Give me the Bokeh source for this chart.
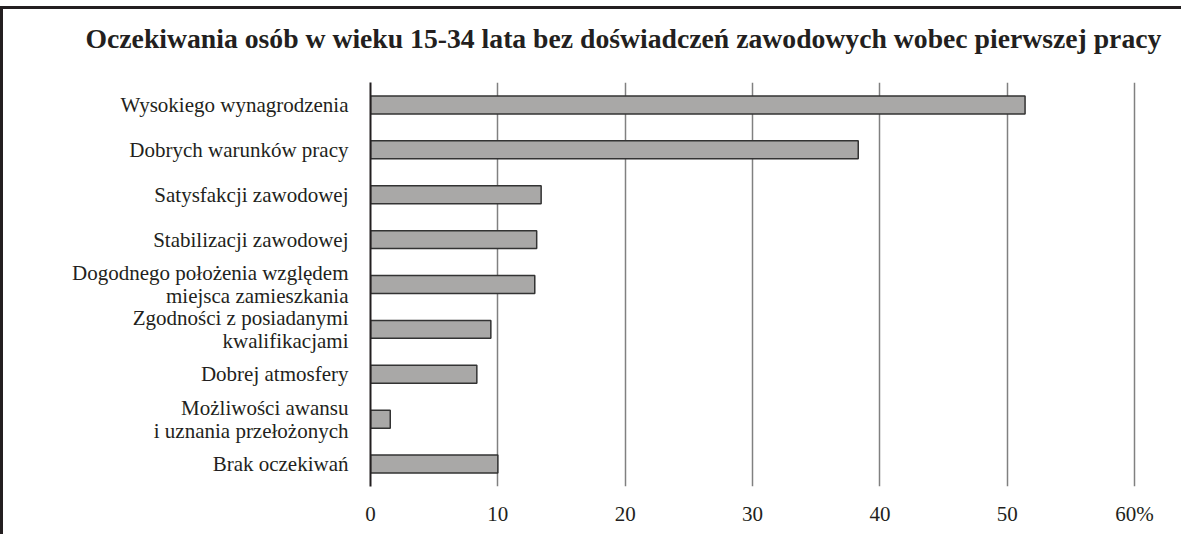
from bokeh.plotting import figure
from bokeh.models import FactorRange, FixedTicker, Title, ColumnDataSource, Range1d
from bokeh.embed import file_html
from bokeh.resources import INLINE

title_text = "Oczekiwania osób w wieku 15-34 lata bez doświadczeń zawodowych wobec pierwszej pracy"

categories = [
    "Wysokiego wynagrodzenia",
    "Dobrych warunków pracy",
    "Satysfakcji zawodowej",
    "Stabilizacji zawodowej",
    "Dogodnego położenia względem\nmiejsca zamieszkania",
    "Zgodności z posiadanymi\nkwalifikacjami",
    "Dobrej atmosfery",
    "Możliwości awansu\ni uznania przełożonych",
    "Brak oczekiwań",
]
values = [51.4, 38.3, 13.4, 13.05, 12.9, 9.45, 8.35, 1.55, 10.0]

x_ticks = [0, 10, 20, 30, 40, 50, 60]
x_tick_labels = {60: "60%"}

FONT = "Liberation Serif"
TEXT = "#231f20"

src = ColumnDataSource(dict(cat=categories, val=values))

p = figure(
    width=1181, height=528,
    y_range=FactorRange(*reversed(categories), range_padding=0),
    x_range=Range1d(0, 60.15),
    output_backend="svg", toolbar_location=None,
    min_border_left=367, min_border_right=48,
    min_border_top=0, min_border_bottom=51,
)
p.styles = {
    "border-top": "3px solid #231f20",
    "border-left": "3px solid #231f20",
    "margin-top": "6px",
    "margin-bottom": "-14px",
}

# spacer between frame and title (nearest to frame)
spacer = Title(text=" ", text_font=FONT, text_font_size="10px", standoff=5)
p.add_layout(spacer, "above")

t = Title(text=title_text, text_font=FONT, text_font_size="27.7px",
          text_font_style="bold", text_color=TEXT, align="left",
          offset=-285, standoff=22)
p.add_layout(t, "above")

p.hbar(y="cat", right="val", left=0, height=0.4, source=src,
       fill_color="#a9a8a7", line_color="#333333", line_width=1.5)

p.outline_line_color = None
p.ygrid.grid_line_color = None
p.xgrid.grid_line_color = "#808080"
p.xgrid.grid_line_width = 1.5
p.xgrid.ticker = FixedTicker(ticks=x_ticks)

p.xaxis.ticker = FixedTicker(ticks=x_ticks)
p.xaxis.major_label_overrides = x_tick_labels
p.xaxis.axis_line_color = None
p.xaxis.major_tick_line_color = None
p.xaxis.major_tick_out = 0
p.xaxis.major_tick_in = 0
p.xaxis.minor_tick_line_color = None
p.xaxis.major_label_standoff = 15
p.xaxis.major_label_text_font = FONT
p.xaxis.major_label_text_font_size = "21px"
p.xaxis.major_label_text_color = TEXT

p.yaxis.axis_line_color = "#231f20"
p.yaxis.axis_line_width = 2
p.yaxis.major_tick_line_color = None
p.yaxis.major_tick_out = 0
p.yaxis.major_tick_in = 0
p.yaxis.major_label_standoff = 22
p.yaxis.major_label_text_font = FONT
p.yaxis.major_label_text_font_size = "21px"
p.yaxis.major_label_text_color = TEXT
p.yaxis.major_label_text_line_height = 0.95

open("out.html", "w").write(file_html(p, INLINE))
